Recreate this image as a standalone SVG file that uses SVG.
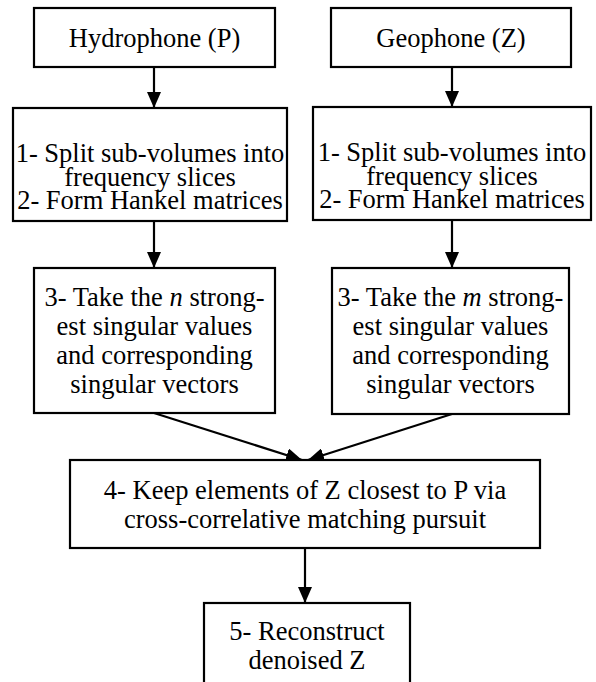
<svg xmlns="http://www.w3.org/2000/svg" width="596" height="682" viewBox="0 0 596 682">
<defs>
<marker id="ah" viewBox="0 0 16 14" markerWidth="16" markerHeight="14" refX="16" refY="7" orient="auto" markerUnits="userSpaceOnUse">
<path d="M0,0 L16,7 L0,14 Z" fill="#000"/>
</marker>
<style>
rect{fill:#fff;stroke:#000;stroke-width:2.2}
text{font-family:'Liberation Serif','DejaVu Serif',serif;font-size:26.5px;fill:#000;text-anchor:middle}
.c line{stroke:#000;stroke-width:2.2;marker-end:url(#ah)}
</style>
</defs>
<rect x="0" y="0" width="596" height="682" style="fill:#fff;stroke:none"/>
<g class="c" id="connectors">
<line x1="154" y1="67" x2="154" y2="108"/>
<line x1="452" y1="67" x2="452" y2="107"/>
<line x1="154" y1="221" x2="154" y2="268"/>
<line x1="452" y1="220" x2="452" y2="268"/>
<line x1="154" y1="413" x2="302" y2="460"/>
<line x1="452" y1="414" x2="308" y2="460"/>
<line x1="305" y1="548" x2="305" y2="603"/>
</g>
<g id="hydrophone">
<rect x="34" y="8" width="241" height="59"/>
<text x="154.5" y="47">Hydrophone (P)</text>
</g>
<g id="geophone">
<rect x="331" y="8" width="240" height="59"/>
<text x="451" y="47">Geophone (Z)</text>
</g>
<g id="step12p">
<rect x="13" y="108" width="274" height="113"/>
<text x="150" y="162">1- Split sub-volumes into</text>
<text x="150" y="186">frequency slices</text>
<text x="150" y="209">2- Form Hankel matrices</text>
</g>
<g id="step12z">
<rect x="313" y="107" width="278" height="113"/>
<text x="452" y="161">1- Split sub-volumes into</text>
<text x="452" y="185">frequency slices</text>
<text x="452" y="208">2- Form Hankel matrices</text>
</g>
<g id="step3p">
<rect x="34" y="268" width="241" height="145"/>
<text x="154.5" y="306">3- Take the <tspan font-style="italic">n</tspan> strong-</text>
<text x="154.5" y="335">est singular values</text>
<text x="154.5" y="364">and corresponding</text>
<text x="154.5" y="393">singular vectors</text>
</g>
<g id="step3z">
<rect x="332" y="268" width="237" height="146"/>
<text x="450.5" y="306">3- Take the <tspan font-style="italic">m</tspan> strong-</text>
<text x="450.5" y="335">est singular values</text>
<text x="450.5" y="364">and corresponding</text>
<text x="450.5" y="393">singular vectors</text>
</g>
<g id="step4">
<rect x="70" y="460" width="470" height="88"/>
<text x="305" y="499">4- Keep elements of Z closest to P via</text>
<text x="305" y="528">cross-correlative matching pursuit</text>
</g>
<g id="step5">
<rect x="204" y="603" width="206" height="82"/>
<text x="307" y="640">5- Reconstruct</text>
<text x="307" y="669">denoised Z</text>
</g>
</svg>
